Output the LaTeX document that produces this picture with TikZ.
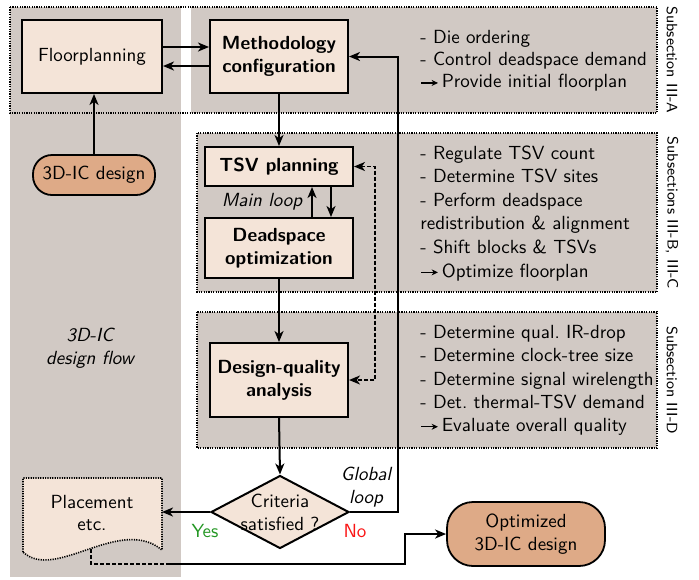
\documentclass[tikz,border=0pt]{standalone}
\usepackage{fontspec}
\usetikzlibrary{arrows.meta,shapes.geometric,calc}
\renewcommand{\familydefault}{\sfdefault}

\definecolor{panel}{RGB}{209,201,196}
\definecolor{boxfill}{RGB}{244,228,216}
\definecolor{pill}{RGB}{222,170,135}
\definecolor{yesgreen}{RGB}{34,150,34}
\definecolor{nored}{RGB}{250,20,20}

% base text size of the drawing
\newcommand{\basefont}{\fontsize{9.5}{11.4}\selectfont\frenchspacing}
% small inline arrow used as a bullet
\newcommand{\resultmark}{\tikz[baseline=-0.55ex]\draw[line width=0.6pt,-{Stealth[length=3.2pt,width=3pt]}] (0pt,0pt) -- (8.5pt,0pt);\,}

\begin{document}
\begin{tikzpicture}[x=0.5pt,y=-0.5pt,
  every node/.style={font=\basefont},
  procbox/.style={draw,line width=1pt,fill=boxfill,inner sep=0pt,align=center,font=\basefont\bfseries},
  plainbox/.style={draw,line width=1pt,fill=boxfill,inner sep=0pt,align=center},
  pillbox/.style={draw,line width=0.9pt,fill=pill,inner sep=0pt,align=center},
  decision/.style={draw,line width=1pt,fill=boxfill,shape=diamond,inner sep=0pt},
  arr/.style={line width=1pt,-{Stealth[length=5.5pt,width=4.5pt,inset=1.6pt]}},
  dasharr/.style={line width=0.8pt,dash pattern=on 2pt off 1pt,
    {Stealth[length=5.5pt,width=4.5pt,inset=1.6pt]}-{Stealth[length=5.5pt,width=4.5pt,inset=1.6pt]}},
  dashline/.style={line width=1pt,dash pattern=on 2pt off 1pt},
  frame/.style={line width=0.8pt,dash pattern=on 0.6pt off 0.6pt},
  listtext/.style={anchor=north west,inner sep=0pt,align=left},
  sidelabel/.style={rotate=-90,font=\fontsize{7.5}{9}\selectfont,inner sep=0pt},
  note/.style={font=\basefont\itshape,align=center,inner sep=0pt}
]
\useasboundingbox (0,0) rectangle (699,579);

% shaded panels
\fill[panel] (10,7) rectangle (181,577);
\fill[panel] (191,7) rectangle (657,113);
\fill[panel] (197,133) rectangle (657,292);
\fill[panel] (197,312) rectangle (657,448);
\draw[frame] (10,7) rectangle (657,113);
\draw[frame] (197,133) rectangle (657,292);
\draw[frame] (197,312) rectangle (657,448);

% side labels
\node[sidelabel] (secA) at (672,60) {Subsection III-A};
\node[sidelabel] (secBC) at (672,213) {Subsections III-B, III-C};
\node[sidelabel] (secD) at (672,380) {Subsection III-D};

% task lists
\node[listtext,font=\fontsize{9.5}{11}\selectfont] (listA) at (420,30)
  {- Die ordering\\- Control deadspace demand\\\resultmark Provide initial floorplan};
\node[listtext,font=\fontsize{9.5}{11.8}\selectfont] (listBC) at (420,145)
  {- Regulate TSV count\\- Determine TSV sites\\- Perform deadspace\\redistribution \& alignment\\- Shift blocks \& TSVs\\\resultmark Optimize floorplan};
\node[listtext,font=\fontsize{9.5}{11.6}\selectfont\frenchspacing] (listD) at (420,325)
  {- Determine qual. IR-drop\\- Determine clock-tree size\\- Determine signal wirelength\\- Det. thermal-TSV demand\\\resultmark Evaluate overall quality};

% flow nodes
\node[plainbox,minimum width=70pt,minimum height=36.5pt] (fp) at (92,56.5) {Floorplanning};
\node[procbox,minimum width=69pt,minimum height=36.5pt] (meth) at (279,56.5) {Methodology\\configuration};
\node[pillbox,minimum width=61pt,minimum height=20pt,rounded corners=9.5pt] (ic) at (94,175) {3D-IC design};
\node[procbox,minimum width=74pt,minimum height=19.5pt] (tsv) at (279,166.5) {TSV planning};
\node[procbox,minimum width=74pt,minimum height=30pt] (dso) at (279,248) {Deadspace\\optimization};
\node[procbox,minimum width=69pt,minimum height=37pt] (dq) at (279,380) {Design-quality\\analysis};
\node[decision,minimum width=69pt,minimum height=36.5pt] (crit) at (280,512) {};
\node[align=center,inner sep=0pt] (critlabel) at (crit) {Criteria\\satisfied ?};
\node[pillbox,minimum width=79pt,minimum height=32pt,rounded corners=13pt] (opt) at (526,534) {Optimized\\3D-IC design};

% placement document shape
\draw[frame,fill=boxfill] (23,552) -- (23,478) -- (162,478) -- (162,550)
  .. controls (120,515) and (55,582) .. (23,552) -- cycle;
\node[align=center,inner sep=0pt] (place) at (92,513) {Placement\\etc.};
\coordinate (placeE) at (162,512);
\coordinate (placeS) at (91,549);
\coordinate (placeTurn) at (91,564);
\coordinate (placeRun) at (167,564);
\coordinate (optTurn) at (405,564);

% notes
\node[note] (flow) at (90,348) {3D-IC\\design flow};
\node[note] (mainloop) at (262,202) {Main loop};
\node[note] (globalloop) at (366,487) {Global\\loop};
\node[text=yesgreen,inner sep=0pt] (yes) at (205,531) {Yes};
\node[text=nored,inner sep=0pt] (no) at (355,531) {No};

% connectors
\draw[arr] ($(fp.east)+(0,-9.5)$) -- ($(meth.west)+(0,-9.5)$);
\draw[arr] ($(meth.west)+(0,9.5)$) -- ($(fp.east)+(0,9.5)$);
\draw[arr] (ic.north) -- (ic.north |- fp.south);
\draw[arr] (meth.south) -- (tsv.north);
\coordinate (upx) at (312,0);
\coordinate (downx) at (331,0);
\draw[arr] (dso.north -| upx) -- (tsv.south -| upx);
\draw[arr] (tsv.south -| downx) -- (dso.north -| downx);
\draw[arr] (dso.south) -- (dq.north);
\draw[arr] (dq.south) -- (crit.north);
\draw[dasharr] (tsv.east) -- ++(21,0) |- (dq.east);
\draw[arr] (crit.west) -- (placeE);
\draw[arr] (crit.east) -- ++(48,0) |- (meth.east);
\draw[dashline] (placeS) -- (placeTurn) -- (placeRun);
\draw[arr] (placeRun) -- (optTurn) |- (opt.west);
\end{tikzpicture}
\end{document}
